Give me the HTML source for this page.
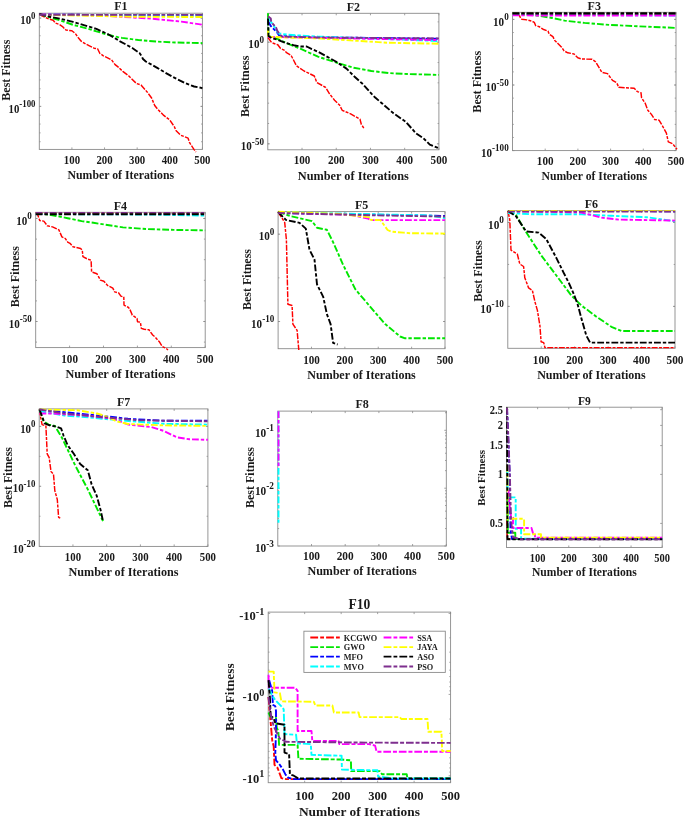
<!DOCTYPE html>
<html><head><meta charset="utf-8"><style>
html,body{margin:0;padding:0;background:#fff;width:685px;height:817px;overflow:hidden}
svg{display:block;will-change:transform;filter:blur(0.3px)}
text{font-family:"Liberation Serif",serif;font-weight:bold}
</style></head><body>
<svg width="685" height="817" viewBox="0 0 685 817" font-family="'Liberation Serif', serif" font-weight="bold">
<rect width="685" height="817" fill="#fff"/>
<g stroke="#8a8a8a" stroke-width="0.8"><line x1="71.92" y1="149.4" x2="71.92" y2="147.4"/><line x1="71.92" y1="13.2" x2="71.92" y2="15.2"/><line x1="104.54" y1="149.4" x2="104.54" y2="147.4"/><line x1="104.54" y1="13.2" x2="104.54" y2="15.2"/><line x1="137.16" y1="149.4" x2="137.16" y2="147.4"/><line x1="137.16" y1="13.2" x2="137.16" y2="15.2"/><line x1="169.78" y1="149.4" x2="169.78" y2="147.4"/><line x1="169.78" y1="13.2" x2="169.78" y2="15.2"/><line x1="202.40" y1="149.4" x2="202.40" y2="147.4"/><line x1="202.40" y1="13.2" x2="202.40" y2="15.2"/><line x1="39.3" y1="18.1" x2="41.3" y2="18.1"/><line x1="202.4" y1="18.1" x2="200.4" y2="18.1"/><line x1="39.3" y1="106.4" x2="41.3" y2="106.4"/><line x1="202.4" y1="106.4" x2="200.4" y2="106.4"/><line x1="39.3" y1="18.10" x2="40.599999999999994" y2="18.10"/><line x1="202.4" y1="18.10" x2="201.1" y2="18.10"/><line x1="39.3" y1="26.93" x2="40.599999999999994" y2="26.93"/><line x1="202.4" y1="26.93" x2="201.1" y2="26.93"/><line x1="39.3" y1="35.76" x2="40.599999999999994" y2="35.76"/><line x1="202.4" y1="35.76" x2="201.1" y2="35.76"/><line x1="39.3" y1="44.59" x2="40.599999999999994" y2="44.59"/><line x1="202.4" y1="44.59" x2="201.1" y2="44.59"/><line x1="39.3" y1="53.42" x2="40.599999999999994" y2="53.42"/><line x1="202.4" y1="53.42" x2="201.1" y2="53.42"/><line x1="39.3" y1="62.25" x2="40.599999999999994" y2="62.25"/><line x1="202.4" y1="62.25" x2="201.1" y2="62.25"/><line x1="39.3" y1="71.08" x2="40.599999999999994" y2="71.08"/><line x1="202.4" y1="71.08" x2="201.1" y2="71.08"/><line x1="39.3" y1="79.91" x2="40.599999999999994" y2="79.91"/><line x1="202.4" y1="79.91" x2="201.1" y2="79.91"/><line x1="39.3" y1="88.74" x2="40.599999999999994" y2="88.74"/><line x1="202.4" y1="88.74" x2="201.1" y2="88.74"/><line x1="39.3" y1="97.57" x2="40.599999999999994" y2="97.57"/><line x1="202.4" y1="97.57" x2="201.1" y2="97.57"/><line x1="39.3" y1="106.40" x2="40.599999999999994" y2="106.40"/><line x1="202.4" y1="106.40" x2="201.1" y2="106.40"/><line x1="39.3" y1="115.23" x2="40.599999999999994" y2="115.23"/><line x1="202.4" y1="115.23" x2="201.1" y2="115.23"/><line x1="39.3" y1="124.06" x2="40.599999999999994" y2="124.06"/><line x1="202.4" y1="124.06" x2="201.1" y2="124.06"/><line x1="39.3" y1="132.89" x2="40.599999999999994" y2="132.89"/><line x1="202.4" y1="132.89" x2="201.1" y2="132.89"/><line x1="39.3" y1="141.72" x2="40.599999999999994" y2="141.72"/><line x1="202.4" y1="141.72" x2="201.1" y2="141.72"/></g>
<rect x="39.3" y="13.2" width="163.10" height="136.20" fill="none" stroke="#8a8a8a" stroke-width="0.9"/>
<svg x="39.3" y="13.2" width="163.10" height="136.20" viewBox="39.3 13.2 163.10 136.20" overflow="hidden">
<path d="M39.3,14.5 L47.3,18.4 L53.2,20.2 L55.5,23.1 L59.0,24.3 L62.5,26.6 L66.0,30.1 L71.9,30.7 L75.4,33.6 L78.3,37.7 L81.2,41.2 L85.9,44.1 L89.4,45.9 L94.1,48.2 L97.6,48.8 L99.9,53.5 L103.4,55.8 L108.1,58.1 L111.6,59.9 L115.1,64.6 L118.0,66.9 L122.8,71.4 L128.8,75.9 L136.4,83.5 L141.0,85.0 L147.1,91.9 L151.6,98.0 L154.7,105.5 L157.7,109.3 L163.8,115.4 L169.8,120.0 L174.4,126.8 L175.9,130.6 L180.5,135.1 L188.1,138.2 L189.6,142.7 L194.1,149.6 L196.0,152.0" fill="none" stroke="#ff0000" stroke-width="1.45" stroke-dasharray="6,1.3,3,1.3" stroke-linejoin="round"/>
<path d="M39.3,14.0 L49.7,17.3 L61.4,20.8 L73.0,24.8 L84.7,27.8 L96.4,31.3 L108.1,34.8 L118.0,37.1 L122.0,37.9 L138.4,40.0 L156.8,41.6 L175.2,42.5 L202.4,43.1" fill="none" stroke="#00e600" stroke-width="1.9" stroke-dasharray="6.8,2,3.4,2" stroke-linejoin="round"/>
<path d="M39.3,14.8 L202.4,14.9" fill="none" stroke="#0000ff" stroke-width="1.9" stroke-dasharray="6.8,2,3.4,2" stroke-linejoin="round"/>
<path d="M39.3,14.5 L120.0,15.5 L202.4,16.3" fill="none" stroke="#00ffff" stroke-width="1.9" stroke-dasharray="6.8,2,3.4,2" stroke-linejoin="round"/>
<path d="M39.3,14.4 L100.0,15.5 L150.7,18.6 L169.0,20.4 L181.3,21.6 L202.4,24.7" fill="none" stroke="#ff00ff" stroke-width="1.9" stroke-dasharray="6.8,2,3.4,2" stroke-linejoin="round"/>
<path d="M39.3,14.8 L100.0,16.0 L135.0,16.8 L202.4,17.0" fill="none" stroke="#ffff00" stroke-width="1.9" stroke-dasharray="6.8,2,3.4,2" stroke-linejoin="round"/>
<path d="M39.3,14.0 L49.7,16.7 L61.4,19.0 L73.0,21.9 L84.7,25.4 L96.4,28.9 L108.1,34.2 L118.0,40.0 L120.0,41.3 L132.3,48.0 L139.5,53.0 L141.5,56.0 L143.0,59.0 L145.8,61.5 L156.8,67.6 L165.0,72.5 L172.9,77.0 L185.0,83.0 L194.1,86.5 L202.4,88.1" fill="none" stroke="#000000" stroke-width="1.9" stroke-dasharray="6.8,2,3.4,2" stroke-linejoin="round"/>
<path d="M39.3,14.8 L202.4,14.9" fill="none" stroke="#7e2f8e" stroke-width="1.9" stroke-dasharray="6.8,2,3.4,2" stroke-linejoin="round"/>
</svg>
<g fill="#1a1a1a"><text transform="translate(71.92,164.1) scale(1,1.12)" text-anchor="middle" font-size="10.81">100</text><text transform="translate(104.54,164.1) scale(1,1.12)" text-anchor="middle" font-size="10.81">200</text><text transform="translate(137.16,164.1) scale(1,1.12)" text-anchor="middle" font-size="10.81">300</text><text transform="translate(169.78,164.1) scale(1,1.12)" text-anchor="middle" font-size="10.81">400</text><text transform="translate(202.40,164.1) scale(1,1.12)" text-anchor="middle" font-size="10.81">500</text><text transform="translate(35.5,24.2) scale(1,1.12)" text-anchor="end" font-size="10.81">10<tspan font-size="8.86" dy="-4.76">0</tspan></text><text transform="translate(35.5,112.5) scale(1,1.12)" text-anchor="end" font-size="10.81">10<tspan font-size="8.86" dy="-4.76">-100</tspan></text><text x="120.85" y="179.3" text-anchor="middle" font-size="11.80">Number of Iterations</text><text x="120.85" y="10.4" text-anchor="middle" font-size="12.00">F1</text><text transform="translate(10.3,70.20) rotate(-90)" x="0" y="0" text-anchor="middle" font-size="12.00">Best Fitness</text></g>
<g stroke="#8a8a8a" stroke-width="0.8"><line x1="302.02" y1="149.8" x2="302.02" y2="147.8"/><line x1="302.02" y1="13.3" x2="302.02" y2="15.3"/><line x1="336.24" y1="149.8" x2="336.24" y2="147.8"/><line x1="336.24" y1="13.3" x2="336.24" y2="15.3"/><line x1="370.46" y1="149.8" x2="370.46" y2="147.8"/><line x1="370.46" y1="13.3" x2="370.46" y2="15.3"/><line x1="404.68" y1="149.8" x2="404.68" y2="147.8"/><line x1="404.68" y1="13.3" x2="404.68" y2="15.3"/><line x1="438.90" y1="149.8" x2="438.90" y2="147.8"/><line x1="438.90" y1="13.3" x2="438.90" y2="15.3"/><line x1="267.8" y1="42.2" x2="269.8" y2="42.2"/><line x1="438.9" y1="42.2" x2="436.9" y2="42.2"/><line x1="267.8" y1="143.8" x2="269.8" y2="143.8"/><line x1="438.9" y1="143.8" x2="436.9" y2="143.8"/><line x1="267.8" y1="42.20" x2="269.1" y2="42.20"/><line x1="438.9" y1="42.20" x2="437.59999999999997" y2="42.20"/><line x1="267.8" y1="62.52" x2="269.1" y2="62.52"/><line x1="438.9" y1="62.52" x2="437.59999999999997" y2="62.52"/><line x1="267.8" y1="82.84" x2="269.1" y2="82.84"/><line x1="438.9" y1="82.84" x2="437.59999999999997" y2="82.84"/><line x1="267.8" y1="103.16" x2="269.1" y2="103.16"/><line x1="438.9" y1="103.16" x2="437.59999999999997" y2="103.16"/><line x1="267.8" y1="123.48" x2="269.1" y2="123.48"/><line x1="438.9" y1="123.48" x2="437.59999999999997" y2="123.48"/><line x1="267.8" y1="143.80" x2="269.1" y2="143.80"/><line x1="438.9" y1="143.80" x2="437.59999999999997" y2="143.80"/><line x1="267.8" y1="21.88" x2="269.1" y2="21.88"/><line x1="438.9" y1="21.88" x2="437.59999999999997" y2="21.88"/></g>
<rect x="267.8" y="13.3" width="171.10" height="136.50" fill="none" stroke="#8a8a8a" stroke-width="0.9"/>
<svg x="267.8" y="13.3" width="171.10" height="136.50" viewBox="267.8 13.3 171.10 136.50" overflow="hidden">
<path d="M268.0,37.5 L271.6,42.6 L277.8,44.8 L280.4,48.3 L284.8,50.5 L286.5,52.7 L290.9,55.3 L292.5,58.0 L296.5,65.9 L304.1,71.0 L314.3,76.0 L316.8,82.4 L325.7,87.5 L329.5,93.8 L334.6,100.2 L339.7,105.3 L342.2,110.3 L351.1,114.1 L360.0,119.2 L361.3,124.3 L363.8,128.1" fill="none" stroke="#ff0000" stroke-width="1.45" stroke-dasharray="6,1.3,3,1.3" stroke-linejoin="round"/>
<path d="M268.0,13.3 L268.5,36.0 L276.9,38.6 L288.3,43.9 L301.4,49.2 L318.0,56.7 L335.8,62.4 L353.6,67.7 L371.4,71.0 L389.2,73.1 L407.0,74.0 L438.9,74.9" fill="none" stroke="#00e600" stroke-width="1.9" stroke-dasharray="6.8,2,3.4,2" stroke-linejoin="round"/>
<path d="M268.0,21.1 L270.8,26.0 L275.1,30.3 L277.8,33.4 L279.5,36.0 L318.0,37.3 L438.9,38.8" fill="none" stroke="#0000ff" stroke-width="1.9" stroke-dasharray="6.8,2,3.4,2" stroke-linejoin="round"/>
<path d="M268.0,18.5 L272.5,23.8 L278.6,33.4 L288.3,34.8 L318.0,36.6 L438.9,41.0" fill="none" stroke="#00ffff" stroke-width="1.9" stroke-dasharray="6.8,2,3.4,2" stroke-linejoin="round"/>
<path d="M268.0,36.9 L318.0,37.8 L438.9,40.1" fill="none" stroke="#ff00ff" stroke-width="1.9" stroke-dasharray="6.8,2,3.4,2" stroke-linejoin="round"/>
<path d="M268.0,29.9 L268.3,36.8 L318.0,38.4 L389.0,42.8 L438.9,43.7" fill="none" stroke="#ffff00" stroke-width="1.9" stroke-dasharray="6.8,2,3.4,2" stroke-linejoin="round"/>
<path d="M268.0,18.5 L268.5,36.0 L271.6,38.2 L276.9,39.5 L284.8,42.6 L293.5,45.2 L300.5,46.5 L306.7,46.5 L311.9,49.2 L318.0,51.7 L335.8,61.5 L346.5,68.6 L353.6,75.8 L362.5,83.8 L371.4,93.6 L375.2,97.6 L382.8,104.0 L393.0,112.9 L405.7,121.8 L415.9,133.2 L423.5,138.3 L429.8,144.6 L438.9,148.4" fill="none" stroke="#000000" stroke-width="1.9" stroke-dasharray="6.8,2,3.4,2" stroke-linejoin="round"/>
<path d="M268.0,16.3 L270.8,18.5 L271.2,22.0 L276.0,27.3 L277.3,30.8 L279.5,34.3 L282.1,36.5 L318.0,37.5 L438.9,38.4" fill="none" stroke="#7e2f8e" stroke-width="1.9" stroke-dasharray="6.8,2,3.4,2" stroke-linejoin="round"/>
</svg>
<g fill="#1a1a1a"><text transform="translate(302.02,164.2) scale(1,1.12)" text-anchor="middle" font-size="11.12">100</text><text transform="translate(336.24,164.2) scale(1,1.12)" text-anchor="middle" font-size="11.12">200</text><text transform="translate(370.46,164.2) scale(1,1.12)" text-anchor="middle" font-size="11.12">300</text><text transform="translate(404.68,164.2) scale(1,1.12)" text-anchor="middle" font-size="11.12">400</text><text transform="translate(438.90,164.2) scale(1,1.12)" text-anchor="middle" font-size="11.12">500</text><text transform="translate(264.0,48.4) scale(1,1.12)" text-anchor="end" font-size="11.12">10<tspan font-size="9.12" dy="-4.89">0</tspan></text><text transform="translate(264.0,150.0) scale(1,1.12)" text-anchor="end" font-size="11.12">10<tspan font-size="9.12" dy="-4.89">-50</tspan></text><text x="353.35" y="179.6" text-anchor="middle" font-size="12.30">Number of Iterations</text><text x="353.35" y="10.5" text-anchor="middle" font-size="12.00">F2</text><text transform="translate(248.6,86.30) rotate(-90)" x="0" y="0" text-anchor="middle" font-size="12.10">Best Fitness</text></g>
<g stroke="#8a8a8a" stroke-width="0.8"><line x1="545.20" y1="150.6" x2="545.20" y2="148.6"/><line x1="545.20" y1="12.3" x2="545.20" y2="14.3"/><line x1="577.90" y1="150.6" x2="577.90" y2="148.6"/><line x1="577.90" y1="12.3" x2="577.90" y2="14.3"/><line x1="610.60" y1="150.6" x2="610.60" y2="148.6"/><line x1="610.60" y1="12.3" x2="610.60" y2="14.3"/><line x1="643.30" y1="150.6" x2="643.30" y2="148.6"/><line x1="643.30" y1="12.3" x2="643.30" y2="14.3"/><line x1="676.00" y1="150.6" x2="676.00" y2="148.6"/><line x1="676.00" y1="12.3" x2="676.00" y2="14.3"/><line x1="512.5" y1="19.4" x2="514.5" y2="19.4"/><line x1="676" y1="19.4" x2="674.0" y2="19.4"/><line x1="512.5" y1="85.0" x2="514.5" y2="85.0"/><line x1="676" y1="85.0" x2="674.0" y2="85.0"/><line x1="512.5" y1="150.6" x2="514.5" y2="150.6"/><line x1="676" y1="150.6" x2="674.0" y2="150.6"/><line x1="512.5" y1="19.40" x2="513.8" y2="19.40"/><line x1="676" y1="19.40" x2="674.7" y2="19.40"/><line x1="512.5" y1="32.52" x2="513.8" y2="32.52"/><line x1="676" y1="32.52" x2="674.7" y2="32.52"/><line x1="512.5" y1="45.64" x2="513.8" y2="45.64"/><line x1="676" y1="45.64" x2="674.7" y2="45.64"/><line x1="512.5" y1="58.76" x2="513.8" y2="58.76"/><line x1="676" y1="58.76" x2="674.7" y2="58.76"/><line x1="512.5" y1="71.88" x2="513.8" y2="71.88"/><line x1="676" y1="71.88" x2="674.7" y2="71.88"/><line x1="512.5" y1="85.00" x2="513.8" y2="85.00"/><line x1="676" y1="85.00" x2="674.7" y2="85.00"/><line x1="512.5" y1="98.12" x2="513.8" y2="98.12"/><line x1="676" y1="98.12" x2="674.7" y2="98.12"/><line x1="512.5" y1="111.24" x2="513.8" y2="111.24"/><line x1="676" y1="111.24" x2="674.7" y2="111.24"/><line x1="512.5" y1="124.36" x2="513.8" y2="124.36"/><line x1="676" y1="124.36" x2="674.7" y2="124.36"/><line x1="512.5" y1="137.48" x2="513.8" y2="137.48"/><line x1="676" y1="137.48" x2="674.7" y2="137.48"/></g>
<rect x="512.5" y="12.3" width="163.50" height="138.30" fill="none" stroke="#8a8a8a" stroke-width="0.9"/>
<svg x="512.5" y="12.3" width="163.50" height="138.30" viewBox="512.5 12.3 163.50 138.30" overflow="hidden">
<path d="M512.5,13.5 L518.8,14.3 L520.7,18.1 L521.9,19.3 L526.9,19.9 L531.9,21.2 L534.3,22.4 L535.6,25.5 L539.3,26.7 L543.0,29.2 L548.0,31.1 L549.2,34.2 L552.9,36.7 L554.8,40.4 L557.9,43.5 L561.6,47.2 L564.1,50.9 L567.8,52.8 L574.0,54.0 L577.8,57.8 L581.5,59.0 L592.0,59.3 L595.7,61.8 L598.2,66.2 L601.9,72.4 L607.5,73.6 L612.5,80.4 L616.8,82.9 L618.7,87.3 L634.2,88.3 L637.3,91.6 L641.0,92.8 L641.6,97.8 L645.3,103.4 L647.8,110.2 L651.6,114.6 L654.7,119.5 L659.0,120.1 L662.7,126.3 L666.4,133.2 L668.3,141.8 L672.6,143.7 L677.0,149.3" fill="none" stroke="#ff0000" stroke-width="1.45" stroke-dasharray="6,1.3,3,1.3" stroke-linejoin="round"/>
<path d="M512.5,13.5 L525.0,14.2 L534.8,15.3 L545.0,16.8 L552.2,18.0 L564.6,20.6 L584.5,22.9 L609.3,24.9 L634.1,26.1 L676.0,27.9" fill="none" stroke="#00e600" stroke-width="1.9" stroke-dasharray="6.8,2,3.4,2" stroke-linejoin="round"/>
<path d="M512.5,13.5 L676.0,13.8" fill="none" stroke="#0000ff" stroke-width="1.9" stroke-dasharray="6.8,2,3.4,2" stroke-linejoin="round"/>
<path d="M512.5,14.5 L676.0,15.5" fill="none" stroke="#00ffff" stroke-width="1.9" stroke-dasharray="6.8,2,3.4,2" stroke-linejoin="round"/>
<path d="M512.5,15.4 L676.0,15.6" fill="none" stroke="#ff00ff" stroke-width="1.9" stroke-dasharray="6.8,2,3.4,2" stroke-linejoin="round"/>
<path d="M512.5,13.5 L676.0,13.8" fill="none" stroke="#ffff00" stroke-width="1.9" stroke-dasharray="6.8,2,3.4,2" stroke-linejoin="round"/>
<path d="M512.5,14.0 L676.0,14.0" fill="none" stroke="#7e2f8e" stroke-width="1.9" stroke-dasharray="6.8,2,3.4,2" stroke-linejoin="round"/>
<path d="M512.5,13.3 L676.0,13.3" fill="none" stroke="#000000" stroke-width="1.9" stroke-dasharray="6.8,2,3.4,2" stroke-linejoin="round"/>
</svg>
<g fill="#1a1a1a"><text transform="translate(545.20,164.8) scale(1,1.12)" text-anchor="middle" font-size="11.12">100</text><text transform="translate(577.90,164.8) scale(1,1.12)" text-anchor="middle" font-size="11.12">200</text><text transform="translate(610.60,164.8) scale(1,1.12)" text-anchor="middle" font-size="11.12">300</text><text transform="translate(643.30,164.8) scale(1,1.12)" text-anchor="middle" font-size="11.12">400</text><text transform="translate(676.00,164.8) scale(1,1.12)" text-anchor="middle" font-size="11.12">500</text><text transform="translate(508.7,25.6) scale(1,1.12)" text-anchor="end" font-size="11.12">10<tspan font-size="9.12" dy="-4.89">0</tspan></text><text transform="translate(508.7,91.2) scale(1,1.12)" text-anchor="end" font-size="11.12">10<tspan font-size="9.12" dy="-4.89">-50</tspan></text><text transform="translate(508.7,156.8) scale(1,1.12)" text-anchor="end" font-size="11.12">10<tspan font-size="9.12" dy="-4.89">-100</tspan></text><text x="594.25" y="179.9" text-anchor="middle" font-size="11.70">Number of Iterations</text><text x="594.25" y="9.5" text-anchor="middle" font-size="12.00">F3</text><text transform="translate(481.4,81.70) rotate(-90)" x="0" y="0" text-anchor="middle" font-size="12.20">Best Fitness</text></g>
<g stroke="#8a8a8a" stroke-width="0.8"><line x1="69.60" y1="347.6" x2="69.60" y2="345.6"/><line x1="69.60" y1="212.3" x2="69.60" y2="214.3"/><line x1="103.50" y1="347.6" x2="103.50" y2="345.6"/><line x1="103.50" y1="212.3" x2="103.50" y2="214.3"/><line x1="137.40" y1="347.6" x2="137.40" y2="345.6"/><line x1="137.40" y1="212.3" x2="137.40" y2="214.3"/><line x1="171.30" y1="347.6" x2="171.30" y2="345.6"/><line x1="171.30" y1="212.3" x2="171.30" y2="214.3"/><line x1="205.20" y1="347.6" x2="205.20" y2="345.6"/><line x1="205.20" y1="212.3" x2="205.20" y2="214.3"/><line x1="35.7" y1="218.5" x2="37.7" y2="218.5"/><line x1="205.2" y1="218.5" x2="203.2" y2="218.5"/><line x1="35.7" y1="321.5" x2="37.7" y2="321.5"/><line x1="205.2" y1="321.5" x2="203.2" y2="321.5"/><line x1="35.7" y1="218.50" x2="37.0" y2="218.50"/><line x1="205.2" y1="218.50" x2="203.89999999999998" y2="218.50"/><line x1="35.7" y1="239.10" x2="37.0" y2="239.10"/><line x1="205.2" y1="239.10" x2="203.89999999999998" y2="239.10"/><line x1="35.7" y1="259.70" x2="37.0" y2="259.70"/><line x1="205.2" y1="259.70" x2="203.89999999999998" y2="259.70"/><line x1="35.7" y1="280.30" x2="37.0" y2="280.30"/><line x1="205.2" y1="280.30" x2="203.89999999999998" y2="280.30"/><line x1="35.7" y1="300.90" x2="37.0" y2="300.90"/><line x1="205.2" y1="300.90" x2="203.89999999999998" y2="300.90"/><line x1="35.7" y1="321.50" x2="37.0" y2="321.50"/><line x1="205.2" y1="321.50" x2="203.89999999999998" y2="321.50"/><line x1="35.7" y1="342.10" x2="37.0" y2="342.10"/><line x1="205.2" y1="342.10" x2="203.89999999999998" y2="342.10"/></g>
<rect x="35.7" y="212.3" width="169.50" height="135.30" fill="none" stroke="#8a8a8a" stroke-width="0.9"/>
<svg x="35.7" y="212.3" width="169.50" height="135.30" viewBox="35.7 212.3 169.50 135.30" overflow="hidden">
<path d="M35.7,212.8 L37.3,213.5 L39.7,220.5 L43.8,221.1 L47.3,225.8 L52.5,226.9 L58.9,229.9 L61.9,236.9 L65.4,238.6 L67.7,242.1 L70.0,243.3 L73.0,246.8 L80.6,248.5 L82.3,250.3 L82.9,256.7 L87.6,259.1 L91.1,260.2 L91.6,271.9 L96.9,273.7 L100.4,280.1 L103.9,281.3 L107.4,285.3 L112.8,288.1 L114.7,291.9 L118.5,292.8 L120.9,296.1 L123.8,297.1 L124.0,305.1 L128.5,307.5 L129.9,309.4 L132.3,315.1 L137.0,318.4 L137.5,321.7 L140.4,322.2 L141.3,328.4 L144.2,329.3 L148.9,329.8 L152.7,335.0 L155.5,337.4 L159.3,341.7 L162.2,346.4 L166.0,348.3 L168.0,350.0" fill="none" stroke="#ff0000" stroke-width="1.45" stroke-dasharray="6,1.3,3,1.3" stroke-linejoin="round"/>
<path d="M35.7,213.0 L49.0,214.7 L58.4,216.4 L67.7,218.2 L81.7,221.1 L93.4,222.8 L105.1,224.6 L122.9,227.4 L148.3,229.1 L173.7,229.9 L205.2,230.4" fill="none" stroke="#00e600" stroke-width="1.9" stroke-dasharray="6.8,2,3.4,2" stroke-linejoin="round"/>
<path d="M35.7,213.3 L205.2,213.6" fill="none" stroke="#0000ff" stroke-width="1.9" stroke-dasharray="6.8,2,3.4,2" stroke-linejoin="round"/>
<path d="M35.7,214.0 L150.0,214.5 L205.2,215.6" fill="none" stroke="#00ffff" stroke-width="1.9" stroke-dasharray="6.8,2,3.4,2" stroke-linejoin="round"/>
<path d="M35.7,213.2 L205.2,213.5" fill="none" stroke="#ff00ff" stroke-width="1.9" stroke-dasharray="6.8,2,3.4,2" stroke-linejoin="round"/>
<path d="M35.7,213.0 L205.2,213.0" fill="none" stroke="#ffff00" stroke-width="1.9" stroke-dasharray="6.8,2,3.4,2" stroke-linejoin="round"/>
<path d="M35.7,212.9 L205.2,212.9" fill="none" stroke="#7e2f8e" stroke-width="1.9" stroke-dasharray="6.8,2,3.4,2" stroke-linejoin="round"/>
<path d="M35.7,214.3 L205.2,214.3" fill="none" stroke="#000000" stroke-width="1.9" stroke-dasharray="6.8,2,3.4,2" stroke-linejoin="round"/>
</svg>
<g fill="#1a1a1a"><text transform="translate(69.60,363.0) scale(1,1.12)" text-anchor="middle" font-size="11.12">100</text><text transform="translate(103.50,363.0) scale(1,1.12)" text-anchor="middle" font-size="11.12">200</text><text transform="translate(137.40,363.0) scale(1,1.12)" text-anchor="middle" font-size="11.12">300</text><text transform="translate(171.30,363.0) scale(1,1.12)" text-anchor="middle" font-size="11.12">400</text><text transform="translate(205.20,363.0) scale(1,1.12)" text-anchor="middle" font-size="11.12">500</text><text transform="translate(31.900000000000002,224.7) scale(1,1.12)" text-anchor="end" font-size="11.12">10<tspan font-size="9.12" dy="-4.89">0</tspan></text><text transform="translate(31.900000000000002,327.7) scale(1,1.12)" text-anchor="end" font-size="11.12">10<tspan font-size="9.12" dy="-4.89">-50</tspan></text><text x="120.45" y="377.7" text-anchor="middle" font-size="12.20">Number of Iterations</text><text x="120.45" y="209.5" text-anchor="middle" font-size="12.00">F4</text><text transform="translate(19,276.70) rotate(-90)" x="0" y="0" text-anchor="middle" font-size="12.00">Best Fitness</text></g>
<g stroke="#8a8a8a" stroke-width="0.8"><line x1="311.48" y1="348.7" x2="311.48" y2="346.7"/><line x1="311.48" y1="211.6" x2="311.48" y2="213.6"/><line x1="344.86" y1="348.7" x2="344.86" y2="346.7"/><line x1="344.86" y1="211.6" x2="344.86" y2="213.6"/><line x1="378.24" y1="348.7" x2="378.24" y2="346.7"/><line x1="378.24" y1="211.6" x2="378.24" y2="213.6"/><line x1="411.62" y1="348.7" x2="411.62" y2="346.7"/><line x1="411.62" y1="211.6" x2="411.62" y2="213.6"/><line x1="445.00" y1="348.7" x2="445.00" y2="346.7"/><line x1="445.00" y1="211.6" x2="445.00" y2="213.6"/><line x1="278.1" y1="234.2" x2="280.1" y2="234.2"/><line x1="445" y1="234.2" x2="443.0" y2="234.2"/><line x1="278.1" y1="321.5" x2="280.1" y2="321.5"/><line x1="445" y1="321.5" x2="443.0" y2="321.5"/><line x1="278.1" y1="234.20" x2="279.40000000000003" y2="234.20"/><line x1="445" y1="234.20" x2="443.7" y2="234.20"/><line x1="278.1" y1="277.85" x2="279.40000000000003" y2="277.85"/><line x1="445" y1="277.85" x2="443.7" y2="277.85"/><line x1="278.1" y1="321.50" x2="279.40000000000003" y2="321.50"/><line x1="445" y1="321.50" x2="443.7" y2="321.50"/></g>
<rect x="278.1" y="211.6" width="166.90" height="137.10" fill="none" stroke="#8a8a8a" stroke-width="0.9"/>
<svg x="278.1" y="211.6" width="166.90" height="137.10" viewBox="278.1 211.6 166.90 137.10" overflow="hidden">
<path d="M278.1,212.0 L284.7,222.4 L286.4,239.7 L287.9,304.3 L292.1,305.5 L292.9,324.1 L297.1,330.3 L298.8,350.0" fill="none" stroke="#ff0000" stroke-width="1.45" stroke-dasharray="6,1.3,3,1.3" stroke-linejoin="round"/>
<path d="M278.1,212.0 L290.9,216.2 L312.0,221.1 L317.0,227.8 L326.9,229.8 L333.1,242.2 L343.0,264.6 L355.4,289.4 L370.3,306.8 L385.2,324.1 L400.1,336.5 L405.1,338.3 L445.0,338.3" fill="none" stroke="#00e600" stroke-width="1.9" stroke-dasharray="6.8,2,3.4,2" stroke-linejoin="round"/>
<path d="M278.1,213.0 L445.0,216.0" fill="none" stroke="#0000ff" stroke-width="1.9" stroke-dasharray="6.8,2,3.4,2" stroke-linejoin="round"/>
<path d="M278.1,212.0 L370.3,214.2 L430.0,215.5 L445.0,218.1" fill="none" stroke="#00ffff" stroke-width="1.9" stroke-dasharray="6.8,2,3.4,2" stroke-linejoin="round"/>
<path d="M278.1,212.5 L350.5,214.9 L368.0,218.5 L370.5,220.1 L445.0,220.1" fill="none" stroke="#ff00ff" stroke-width="1.9" stroke-dasharray="6.8,2,3.4,2" stroke-linejoin="round"/>
<path d="M278.1,211.8 L340.0,214.0 L370.5,217.5 L370.5,219.8 L380.4,220.1 L387.6,230.0 L391.5,231.7 L403.4,232.6 L409.9,233.2 L445.0,233.6" fill="none" stroke="#ffff00" stroke-width="1.9" stroke-dasharray="6.8,2,3.4,2" stroke-linejoin="round"/>
<path d="M278.1,212.0 L285.9,219.9 L299.6,222.9 L305.8,228.6 L309.5,249.7 L314.5,259.6 L317.0,284.4 L323.2,296.8 L326.9,314.2 L330.6,324.1 L333.1,342.8 L337.6,344.5" fill="none" stroke="#000000" stroke-width="1.9" stroke-dasharray="6.8,2,3.4,2" stroke-linejoin="round"/>
<path d="M278.1,213.0 L370.0,215.2 L445.0,216.6" fill="none" stroke="#7e2f8e" stroke-width="1.9" stroke-dasharray="6.8,2,3.4,2" stroke-linejoin="round"/>
</svg>
<g fill="#1a1a1a"><text transform="translate(311.48,363.7) scale(1,1.12)" text-anchor="middle" font-size="11.12">100</text><text transform="translate(344.86,363.7) scale(1,1.12)" text-anchor="middle" font-size="11.12">200</text><text transform="translate(378.24,363.7) scale(1,1.12)" text-anchor="middle" font-size="11.12">300</text><text transform="translate(411.62,363.7) scale(1,1.12)" text-anchor="middle" font-size="11.12">400</text><text transform="translate(445.00,363.7) scale(1,1.12)" text-anchor="middle" font-size="11.12">500</text><text transform="translate(274.3,240.4) scale(1,1.12)" text-anchor="end" font-size="11.12">10<tspan font-size="9.12" dy="-4.89">0</tspan></text><text transform="translate(274.3,327.7) scale(1,1.12)" text-anchor="end" font-size="11.12">10<tspan font-size="9.12" dy="-4.89">-10</tspan></text><text x="361.55" y="378.9" text-anchor="middle" font-size="12.00">Number of Iterations</text><text x="361.55" y="208.8" text-anchor="middle" font-size="12.00">F5</text><text transform="translate(251.4,279.50) rotate(-90)" x="0" y="0" text-anchor="middle" font-size="12.00">Best Fitness</text></g>
<g stroke="#8a8a8a" stroke-width="0.8"><line x1="541.24" y1="348.3" x2="541.24" y2="346.3"/><line x1="541.24" y1="210.7" x2="541.24" y2="212.7"/><line x1="574.68" y1="348.3" x2="574.68" y2="346.3"/><line x1="574.68" y1="210.7" x2="574.68" y2="212.7"/><line x1="608.12" y1="348.3" x2="608.12" y2="346.3"/><line x1="608.12" y1="210.7" x2="608.12" y2="212.7"/><line x1="641.56" y1="348.3" x2="641.56" y2="346.3"/><line x1="641.56" y1="210.7" x2="641.56" y2="212.7"/><line x1="675.00" y1="348.3" x2="675.00" y2="346.3"/><line x1="675.00" y1="210.7" x2="675.00" y2="212.7"/><line x1="507.8" y1="222.5" x2="509.8" y2="222.5"/><line x1="675" y1="222.5" x2="673.0" y2="222.5"/><line x1="507.8" y1="306.4" x2="509.8" y2="306.4"/><line x1="675" y1="306.4" x2="673.0" y2="306.4"/><line x1="507.8" y1="222.50" x2="509.1" y2="222.50"/><line x1="675" y1="222.50" x2="673.7" y2="222.50"/><line x1="507.8" y1="264.45" x2="509.1" y2="264.45"/><line x1="675" y1="264.45" x2="673.7" y2="264.45"/><line x1="507.8" y1="306.40" x2="509.1" y2="306.40"/><line x1="675" y1="306.40" x2="673.7" y2="306.40"/></g>
<rect x="507.8" y="210.7" width="167.20" height="137.60" fill="none" stroke="#8a8a8a" stroke-width="0.9"/>
<svg x="507.8" y="210.7" width="167.20" height="137.60" viewBox="507.8 210.7 167.20 137.60" overflow="hidden">
<path d="M508.0,211.0 L509.8,220.1 L511.0,250.2 L517.3,254.0 L519.8,264.0 L523.6,266.5 L524.8,277.8 L528.6,287.9 L532.4,290.4 L534.9,301.7 L537.4,310.4 L539.9,325.5 L541.1,341.8 L543.7,342.6 L544.9,347.6 L675.0,347.6" fill="none" stroke="#ff0000" stroke-width="1.45" stroke-dasharray="6,1.3,3,1.3" stroke-linejoin="round"/>
<path d="M508.0,211.0 L516.0,215.0 L524.8,230.1 L541.1,255.2 L556.2,275.3 L571.3,295.4 L581.3,305.4 L596.4,316.7 L611.4,326.8 L621.5,331.0 L675.0,331.0" fill="none" stroke="#00e600" stroke-width="1.9" stroke-dasharray="6.8,2,3.4,2" stroke-linejoin="round"/>
<path d="M508.0,211.0 L675.0,211.2" fill="none" stroke="#0000ff" stroke-width="1.9" stroke-dasharray="6.8,2,3.4,2" stroke-linejoin="round"/>
<path d="M508.0,213.0 L530.0,214.2 L581.3,214.3 L611.4,215.8 L646.6,217.2 L675.0,221.3" fill="none" stroke="#00ffff" stroke-width="1.9" stroke-dasharray="6.8,2,3.4,2" stroke-linejoin="round"/>
<path d="M508.0,211.0 L581.3,212.5 L601.4,217.6 L619.0,219.6 L675.0,220.6" fill="none" stroke="#ff00ff" stroke-width="1.9" stroke-dasharray="6.8,2,3.4,2" stroke-linejoin="round"/>
<path d="M508.0,211.0 L675.0,211.0" fill="none" stroke="#ffff00" stroke-width="1.9" stroke-dasharray="6.8,2,3.4,2" stroke-linejoin="round"/>
<path d="M508.0,211.0 L516.0,216.3 L526.1,231.4 L538.6,232.6 L546.2,238.9 L556.2,257.7 L563.7,272.8 L568.8,282.8 L573.8,294.1 L577.6,304.2 L581.3,318.0 L586.3,335.6 L590.1,342.6 L675.0,342.6" fill="none" stroke="#000000" stroke-width="1.9" stroke-dasharray="6.8,2,3.4,2" stroke-linejoin="round"/>
<path d="M508.0,211.6 L675.0,211.6" fill="none" stroke="#7e2f8e" stroke-width="1.9" stroke-dasharray="6.8,2,3.4,2" stroke-linejoin="round"/>
</svg>
<g fill="#1a1a1a"><text transform="translate(541.24,363.7) scale(1,1.12)" text-anchor="middle" font-size="11.33">100</text><text transform="translate(574.68,363.7) scale(1,1.12)" text-anchor="middle" font-size="11.33">200</text><text transform="translate(608.12,363.7) scale(1,1.12)" text-anchor="middle" font-size="11.33">300</text><text transform="translate(641.56,363.7) scale(1,1.12)" text-anchor="middle" font-size="11.33">400</text><text transform="translate(675.00,363.7) scale(1,1.12)" text-anchor="middle" font-size="11.33">500</text><text transform="translate(504.0,228.8) scale(1,1.12)" text-anchor="end" font-size="11.33">10<tspan font-size="9.29" dy="-4.99">0</tspan></text><text transform="translate(504.0,312.7) scale(1,1.12)" text-anchor="end" font-size="11.33">10<tspan font-size="9.29" dy="-4.99">-10</tspan></text><text x="591.40" y="378.7" text-anchor="middle" font-size="12.00">Number of Iterations</text><text x="591.40" y="207.9" text-anchor="middle" font-size="12.00">F6</text><text transform="translate(481.8,271.10) rotate(-90)" x="0" y="0" text-anchor="middle" font-size="12.10">Best Fitness</text></g>
<g stroke="#8a8a8a" stroke-width="0.8"><line x1="72.94" y1="546.4" x2="72.94" y2="544.4"/><line x1="72.94" y1="408.9" x2="72.94" y2="410.9"/><line x1="106.68" y1="546.4" x2="106.68" y2="544.4"/><line x1="106.68" y1="408.9" x2="106.68" y2="410.9"/><line x1="140.42" y1="546.4" x2="140.42" y2="544.4"/><line x1="140.42" y1="408.9" x2="140.42" y2="410.9"/><line x1="174.16" y1="546.4" x2="174.16" y2="544.4"/><line x1="174.16" y1="408.9" x2="174.16" y2="410.9"/><line x1="207.90" y1="546.4" x2="207.90" y2="544.4"/><line x1="207.90" y1="408.9" x2="207.90" y2="410.9"/><line x1="39.2" y1="426.4" x2="41.2" y2="426.4"/><line x1="207.9" y1="426.4" x2="205.9" y2="426.4"/><line x1="39.2" y1="486.3" x2="41.2" y2="486.3"/><line x1="207.9" y1="486.3" x2="205.9" y2="486.3"/><line x1="39.2" y1="546.4" x2="41.2" y2="546.4"/><line x1="207.9" y1="546.4" x2="205.9" y2="546.4"/><line x1="39.2" y1="426.40" x2="40.5" y2="426.40"/><line x1="207.9" y1="426.40" x2="206.6" y2="426.40"/><line x1="39.2" y1="456.35" x2="40.5" y2="456.35"/><line x1="207.9" y1="456.35" x2="206.6" y2="456.35"/><line x1="39.2" y1="486.30" x2="40.5" y2="486.30"/><line x1="207.9" y1="486.30" x2="206.6" y2="486.30"/><line x1="39.2" y1="516.25" x2="40.5" y2="516.25"/><line x1="207.9" y1="516.25" x2="206.6" y2="516.25"/></g>
<rect x="39.2" y="408.9" width="168.70" height="137.50" fill="none" stroke="#8a8a8a" stroke-width="0.9"/>
<svg x="39.2" y="408.9" width="168.70" height="137.50" viewBox="39.2 408.9 168.70 137.50" overflow="hidden">
<path d="M39.5,409.5 L40.8,418.2 L42.1,424.6 L45.9,425.9 L47.2,453.8 L49.2,457.6 L51.0,471.6 L53.5,474.1 L54.8,490.6 L57.3,499.5 L58.6,517.3 L61.1,518.6" fill="none" stroke="#ff0000" stroke-width="1.45" stroke-dasharray="6,1.3,3,1.3" stroke-linejoin="round"/>
<path d="M39.5,409.5 L43.4,420.8 L48.4,424.6 L54.8,425.9 L62.4,438.6 L75.1,465.2 L87.8,489.4 L103.0,521.1" fill="none" stroke="#00e600" stroke-width="1.9" stroke-dasharray="6.8,2,3.4,2" stroke-linejoin="round"/>
<path d="M39.5,409.5 L64.3,412.2 L77.4,413.5 L103.7,416.1 L128.0,418.8 L164.0,420.8 L207.9,420.8" fill="none" stroke="#0000ff" stroke-width="1.9" stroke-dasharray="6.8,2,3.4,2" stroke-linejoin="round"/>
<path d="M39.5,411.0 L44.6,412.2 L64.3,415.5 L90.6,417.5 L103.7,418.8 L125.9,420.8 L164.0,423.8 L207.9,424.6" fill="none" stroke="#00ffff" stroke-width="1.9" stroke-dasharray="6.8,2,3.4,2" stroke-linejoin="round"/>
<path d="M39.5,413.5 L51.1,413.5 L87.8,415.7 L113.2,418.7 L128.4,424.6 L151.3,427.1 L164.0,431.0 L176.7,437.3 L189.4,439.3 L207.9,439.8" fill="none" stroke="#ff00ff" stroke-width="1.9" stroke-dasharray="6.8,2,3.4,2" stroke-linejoin="round"/>
<path d="M39.5,409.5 L77.4,410.2 L97.1,413.5 L108.0,417.0 L116.8,421.4 L128.0,424.0 L164.0,425.4 L207.9,425.9" fill="none" stroke="#ffff00" stroke-width="1.9" stroke-dasharray="6.8,2,3.4,2" stroke-linejoin="round"/>
<path d="M39.5,409.5 L44.6,423.3 L51.0,425.9 L56.0,426.4 L61.1,428.4 L63.7,436.0 L67.5,444.9 L73.8,453.8 L80.2,464.0 L87.8,470.3 L91.6,484.3 L96.7,495.7 L100.5,509.7 L103.0,521.1" fill="none" stroke="#000000" stroke-width="1.9" stroke-dasharray="6.8,2,3.4,2" stroke-linejoin="round"/>
<path d="M39.5,409.5 L62.4,413.2 L100.5,417.0 L138.6,420.3 L207.9,421.3" fill="none" stroke="#7e2f8e" stroke-width="1.9" stroke-dasharray="6.8,2,3.4,2" stroke-linejoin="round"/>
</svg>
<g fill="#1a1a1a"><text transform="translate(72.94,561.1) scale(1,1.12)" text-anchor="middle" font-size="10.81">100</text><text transform="translate(106.68,561.1) scale(1,1.12)" text-anchor="middle" font-size="10.81">200</text><text transform="translate(140.42,561.1) scale(1,1.12)" text-anchor="middle" font-size="10.81">300</text><text transform="translate(174.16,561.1) scale(1,1.12)" text-anchor="middle" font-size="10.81">400</text><text transform="translate(207.90,561.1) scale(1,1.12)" text-anchor="middle" font-size="10.81">500</text><text transform="translate(35.400000000000006,432.5) scale(1,1.12)" text-anchor="end" font-size="10.81">10<tspan font-size="8.86" dy="-4.76">0</tspan></text><text transform="translate(35.400000000000006,492.4) scale(1,1.12)" text-anchor="end" font-size="10.81">10<tspan font-size="8.86" dy="-4.76">-10</tspan></text><text transform="translate(35.400000000000006,552.5) scale(1,1.12)" text-anchor="end" font-size="10.81">10<tspan font-size="8.86" dy="-4.76">-20</tspan></text><text x="123.55" y="576.0" text-anchor="middle" font-size="12.20">Number of Iterations</text><text x="123.55" y="406.1" text-anchor="middle" font-size="12.00">F7</text><text transform="translate(11.8,477.50) rotate(-90)" x="0" y="0" text-anchor="middle" font-size="12.00">Best Fitness</text></g>
<g stroke="#8a8a8a" stroke-width="0.8"><line x1="311.50" y1="546" x2="311.50" y2="544.0"/><line x1="311.50" y1="411.1" x2="311.50" y2="413.1"/><line x1="345.20" y1="546" x2="345.20" y2="544.0"/><line x1="345.20" y1="411.1" x2="345.20" y2="413.1"/><line x1="378.90" y1="546" x2="378.90" y2="544.0"/><line x1="378.90" y1="411.1" x2="378.90" y2="413.1"/><line x1="412.60" y1="546" x2="412.60" y2="544.0"/><line x1="412.60" y1="411.1" x2="412.60" y2="413.1"/><line x1="446.30" y1="546" x2="446.30" y2="544.0"/><line x1="446.30" y1="411.1" x2="446.30" y2="413.1"/><line x1="277.8" y1="430.3" x2="279.8" y2="430.3"/><line x1="446.3" y1="430.3" x2="444.3" y2="430.3"/><line x1="277.8" y1="488.2" x2="279.8" y2="488.2"/><line x1="446.3" y1="488.2" x2="444.3" y2="488.2"/><line x1="277.8" y1="546" x2="279.8" y2="546"/><line x1="446.3" y1="546" x2="444.3" y2="546"/><line x1="277.8" y1="528.57" x2="279.1" y2="528.57"/><line x1="446.3" y1="528.57" x2="445.0" y2="528.57"/><line x1="277.8" y1="518.37" x2="279.1" y2="518.37"/><line x1="446.3" y1="518.37" x2="445.0" y2="518.37"/><line x1="277.8" y1="511.14" x2="279.1" y2="511.14"/><line x1="446.3" y1="511.14" x2="445.0" y2="511.14"/><line x1="277.8" y1="505.53" x2="279.1" y2="505.53"/><line x1="446.3" y1="505.53" x2="445.0" y2="505.53"/><line x1="277.8" y1="500.95" x2="279.1" y2="500.95"/><line x1="446.3" y1="500.95" x2="445.0" y2="500.95"/><line x1="277.8" y1="497.07" x2="279.1" y2="497.07"/><line x1="446.3" y1="497.07" x2="445.0" y2="497.07"/><line x1="277.8" y1="493.71" x2="279.1" y2="493.71"/><line x1="446.3" y1="493.71" x2="445.0" y2="493.71"/><line x1="277.8" y1="490.75" x2="279.1" y2="490.75"/><line x1="446.3" y1="490.75" x2="445.0" y2="490.75"/><line x1="277.8" y1="470.67" x2="279.1" y2="470.67"/><line x1="446.3" y1="470.67" x2="445.0" y2="470.67"/><line x1="277.8" y1="460.47" x2="279.1" y2="460.47"/><line x1="446.3" y1="460.47" x2="445.0" y2="460.47"/><line x1="277.8" y1="453.24" x2="279.1" y2="453.24"/><line x1="446.3" y1="453.24" x2="445.0" y2="453.24"/><line x1="277.8" y1="447.63" x2="279.1" y2="447.63"/><line x1="446.3" y1="447.63" x2="445.0" y2="447.63"/><line x1="277.8" y1="443.05" x2="279.1" y2="443.05"/><line x1="446.3" y1="443.05" x2="445.0" y2="443.05"/><line x1="277.8" y1="439.17" x2="279.1" y2="439.17"/><line x1="446.3" y1="439.17" x2="445.0" y2="439.17"/><line x1="277.8" y1="435.81" x2="279.1" y2="435.81"/><line x1="446.3" y1="435.81" x2="445.0" y2="435.81"/><line x1="277.8" y1="432.85" x2="279.1" y2="432.85"/><line x1="446.3" y1="432.85" x2="445.0" y2="432.85"/><line x1="277.8" y1="412.77" x2="279.1" y2="412.77"/><line x1="446.3" y1="412.77" x2="445.0" y2="412.77"/></g>
<rect x="277.8" y="411.1" width="168.50" height="134.90" fill="none" stroke="#8a8a8a" stroke-width="0.9"/>
<svg x="277.8" y="411.1" width="168.50" height="134.90" viewBox="277.8 411.1 168.50 134.90" overflow="hidden">
<path d="M278.5,411.2 L278.5,523.1" fill="none" stroke="#00ffff" stroke-width="1.9" stroke-dasharray="6.8,2,3.4,2" stroke-linejoin="round"/>
<path d="M278.5,411.2 L278.5,466.3" fill="none" stroke="#ff00ff" stroke-width="1.9" stroke-dasharray="6.8,2,3.4,2" stroke-linejoin="round"/>
</svg>
<g fill="#1a1a1a"><text transform="translate(311.50,560.3) scale(1,1.12)" text-anchor="middle" font-size="11.33">100</text><text transform="translate(345.20,560.3) scale(1,1.12)" text-anchor="middle" font-size="11.33">200</text><text transform="translate(378.90,560.3) scale(1,1.12)" text-anchor="middle" font-size="11.33">300</text><text transform="translate(412.60,560.3) scale(1,1.12)" text-anchor="middle" font-size="11.33">400</text><text transform="translate(446.30,560.3) scale(1,1.12)" text-anchor="middle" font-size="11.33">500</text><text transform="translate(274.0,436.6) scale(1,1.12)" text-anchor="end" font-size="11.33">10<tspan font-size="9.29" dy="-4.99">-1</tspan></text><text transform="translate(274.0,494.5) scale(1,1.12)" text-anchor="end" font-size="11.33">10<tspan font-size="9.29" dy="-4.99">-2</tspan></text><text transform="translate(274.0,552.3) scale(1,1.12)" text-anchor="end" font-size="11.33">10<tspan font-size="9.29" dy="-4.99">-3</tspan></text><text x="362.05" y="575.0" text-anchor="middle" font-size="12.10">Number of Iterations</text><text x="362.05" y="408.3" text-anchor="middle" font-size="12.00">F8</text><text transform="translate(254.1,477.50) rotate(-90)" x="0" y="0" text-anchor="middle" font-size="12.00">Best Fitness</text></g>
<g stroke="#8a8a8a" stroke-width="0.8"><line x1="537.64" y1="547.5" x2="537.64" y2="545.5"/><line x1="537.64" y1="407.2" x2="537.64" y2="409.2"/><line x1="568.78" y1="547.5" x2="568.78" y2="545.5"/><line x1="568.78" y1="407.2" x2="568.78" y2="409.2"/><line x1="599.92" y1="547.5" x2="599.92" y2="545.5"/><line x1="599.92" y1="407.2" x2="599.92" y2="409.2"/><line x1="631.06" y1="547.5" x2="631.06" y2="545.5"/><line x1="631.06" y1="407.2" x2="631.06" y2="409.2"/><line x1="662.20" y1="547.5" x2="662.20" y2="545.5"/><line x1="662.20" y1="407.2" x2="662.20" y2="409.2"/><line x1="506.5" y1="409.7" x2="508.5" y2="409.7"/><line x1="662.2" y1="409.7" x2="660.2" y2="409.7"/><line x1="506.5" y1="425.4" x2="508.5" y2="425.4"/><line x1="662.2" y1="425.4" x2="660.2" y2="425.4"/><line x1="506.5" y1="445.6" x2="508.5" y2="445.6"/><line x1="662.2" y1="445.6" x2="660.2" y2="445.6"/><line x1="506.5" y1="474.4" x2="508.5" y2="474.4"/><line x1="662.2" y1="474.4" x2="660.2" y2="474.4"/><line x1="506.5" y1="523.4" x2="508.5" y2="523.4"/><line x1="662.2" y1="523.4" x2="660.2" y2="523.4"/></g>
<rect x="506.5" y="407.2" width="155.70" height="140.30" fill="none" stroke="#8a8a8a" stroke-width="0.9"/>
<svg x="506.5" y="407.2" width="155.70" height="140.30" viewBox="506.5 407.2 155.70 140.30" overflow="hidden">
<path d="M507.0,520.0 L507.3,538.8 L662.2,538.8" fill="none" stroke="#ff0000" stroke-width="1.45" stroke-dasharray="6,1.3,3,1.3" stroke-linejoin="round"/>
<path d="M507.4,495.0 L507.8,532.8 L515.3,532.8 L515.3,539.0 L662.2,539.0" fill="none" stroke="#00e600" stroke-width="1.9" stroke-dasharray="6.8,2,3.4,2" stroke-linejoin="round"/>
<path d="M507.0,408.0 L509.5,470.0 L510.5,530.0 L512.0,539.0 L662.2,539.0" fill="none" stroke="#0000ff" stroke-width="1.9" stroke-dasharray="6.8,2,3.4,2" stroke-linejoin="round"/>
<path d="M507.4,470.0 L507.6,497.4 L515.7,497.4 L515.7,528.8 L521.1,528.8 L521.1,538.8 L662.2,538.8" fill="none" stroke="#00ffff" stroke-width="1.9" stroke-dasharray="6.8,2,3.4,2" stroke-linejoin="round"/>
<path d="M508.5,490.0 L509.5,505.0 L511.0,515.8 L513.0,517.5 L513.0,528.0 L531.5,528.0 L533.0,533.3 L535.0,533.3 L535.0,537.6 L662.2,537.6" fill="none" stroke="#ff00ff" stroke-width="1.9" stroke-dasharray="6.8,2,3.4,2" stroke-linejoin="round"/>
<path d="M507.4,465.0 L507.5,518.8 L524.1,518.8 L524.1,534.2 L541.0,534.2 L541.0,537.6 L662.2,537.6" fill="none" stroke="#ffff00" stroke-width="1.9" stroke-dasharray="6.8,2,3.4,2" stroke-linejoin="round"/>
<path d="M507.0,407.5 L507.5,539.2 L662.2,539.2" fill="none" stroke="#000000" stroke-width="1.9" stroke-dasharray="6.8,2,3.4,2" stroke-linejoin="round"/>
<path d="M507.0,408.0 L508.5,440.0 L510.0,480.0 L511.0,520.0 L513.0,537.0 L520.0,539.3 L662.2,539.3" fill="none" stroke="#7e2f8e" stroke-width="1.9" stroke-dasharray="6.8,2,3.4,2" stroke-linejoin="round"/>
</svg>
<g fill="#1a1a1a"><text transform="translate(537.64,561.8) scale(1,1.12)" text-anchor="middle" font-size="10.51">100</text><text transform="translate(568.78,561.8) scale(1,1.12)" text-anchor="middle" font-size="10.51">200</text><text transform="translate(599.92,561.8) scale(1,1.12)" text-anchor="middle" font-size="10.51">300</text><text transform="translate(631.06,561.8) scale(1,1.12)" text-anchor="middle" font-size="10.51">400</text><text transform="translate(662.20,561.8) scale(1,1.12)" text-anchor="middle" font-size="10.51">500</text><text transform="translate(503.0,413.5) scale(1,1.12)" text-anchor="end" font-size="10.51">2.5</text><text transform="translate(503.0,429.2) scale(1,1.12)" text-anchor="end" font-size="10.51">2</text><text transform="translate(503.0,449.4) scale(1,1.12)" text-anchor="end" font-size="10.51">1.5</text><text transform="translate(503.0,478.2) scale(1,1.12)" text-anchor="end" font-size="10.51">1</text><text transform="translate(503.0,527.2) scale(1,1.12)" text-anchor="end" font-size="10.51">0.5</text><text x="584.35" y="575.5" text-anchor="middle" font-size="11.60">Number of Iterations</text><text x="584.35" y="404.5" text-anchor="middle" font-size="11.52">F9</text><text transform="translate(484.7,477.90) rotate(-90)" x="0" y="0" text-anchor="middle" font-size="11.00">Best Fitness</text></g>
<g stroke="#8a8a8a" stroke-width="0.8"><line x1="304.68" y1="782.7" x2="304.68" y2="780.7"/><line x1="304.68" y1="612.1" x2="304.68" y2="614.1"/><line x1="341.16" y1="782.7" x2="341.16" y2="780.7"/><line x1="341.16" y1="612.1" x2="341.16" y2="614.1"/><line x1="377.64" y1="782.7" x2="377.64" y2="780.7"/><line x1="377.64" y1="612.1" x2="377.64" y2="614.1"/><line x1="414.12" y1="782.7" x2="414.12" y2="780.7"/><line x1="414.12" y1="612.1" x2="414.12" y2="614.1"/><line x1="450.60" y1="782.7" x2="450.60" y2="780.7"/><line x1="450.60" y1="612.1" x2="450.60" y2="614.1"/><line x1="268.2" y1="613.4" x2="270.2" y2="613.4"/><line x1="450.6" y1="613.4" x2="448.6" y2="613.4"/><line x1="268.2" y1="694.4" x2="270.2" y2="694.4"/><line x1="450.6" y1="694.4" x2="448.6" y2="694.4"/><line x1="268.2" y1="775.8" x2="270.2" y2="775.8"/><line x1="450.6" y1="775.8" x2="448.6" y2="775.8"/><line x1="268.2" y1="637.84" x2="269.5" y2="637.84"/><line x1="450.6" y1="637.84" x2="449.3" y2="637.84"/><line x1="268.2" y1="652.14" x2="269.5" y2="652.14"/><line x1="450.6" y1="652.14" x2="449.3" y2="652.14"/><line x1="268.2" y1="662.29" x2="269.5" y2="662.29"/><line x1="450.6" y1="662.29" x2="449.3" y2="662.29"/><line x1="268.2" y1="670.16" x2="269.5" y2="670.16"/><line x1="450.6" y1="670.16" x2="449.3" y2="670.16"/><line x1="268.2" y1="676.59" x2="269.5" y2="676.59"/><line x1="450.6" y1="676.59" x2="449.3" y2="676.59"/><line x1="268.2" y1="682.02" x2="269.5" y2="682.02"/><line x1="450.6" y1="682.02" x2="449.3" y2="682.02"/><line x1="268.2" y1="686.73" x2="269.5" y2="686.73"/><line x1="450.6" y1="686.73" x2="449.3" y2="686.73"/><line x1="268.2" y1="690.88" x2="269.5" y2="690.88"/><line x1="450.6" y1="690.88" x2="449.3" y2="690.88"/><line x1="268.2" y1="719.04" x2="269.5" y2="719.04"/><line x1="450.6" y1="719.04" x2="449.3" y2="719.04"/><line x1="268.2" y1="733.34" x2="269.5" y2="733.34"/><line x1="450.6" y1="733.34" x2="449.3" y2="733.34"/><line x1="268.2" y1="743.49" x2="269.5" y2="743.49"/><line x1="450.6" y1="743.49" x2="449.3" y2="743.49"/><line x1="268.2" y1="751.36" x2="269.5" y2="751.36"/><line x1="450.6" y1="751.36" x2="449.3" y2="751.36"/><line x1="268.2" y1="757.79" x2="269.5" y2="757.79"/><line x1="450.6" y1="757.79" x2="449.3" y2="757.79"/><line x1="268.2" y1="763.22" x2="269.5" y2="763.22"/><line x1="450.6" y1="763.22" x2="449.3" y2="763.22"/><line x1="268.2" y1="767.93" x2="269.5" y2="767.93"/><line x1="450.6" y1="767.93" x2="449.3" y2="767.93"/><line x1="268.2" y1="772.08" x2="269.5" y2="772.08"/><line x1="450.6" y1="772.08" x2="449.3" y2="772.08"/></g>
<rect x="268.2" y="612.1" width="182.40" height="170.60" fill="none" stroke="#8a8a8a" stroke-width="0.9"/>
<svg x="268.2" y="612.1" width="182.40" height="170.60" viewBox="268.2 612.1 182.40 170.60" overflow="hidden">
<path d="M268.5,697.0 L270.6,721.7 L272.2,740.2 L273.7,746.4 L274.5,764.9 L277.6,768.0 L279.9,774.2 L281.4,778.1 L286.1,779.1 L450.6,779.1" fill="none" stroke="#ff0000" stroke-width="1.9" stroke-dasharray="7.7,1.9,4,1.9" stroke-linejoin="round"/>
<path d="M268.5,712.5 L270.6,717.1 L276.0,717.9 L276.8,727.9 L278.3,731.0 L279.1,744.9 L297.6,744.9 L298.4,758.8 L340.1,759.5 L350.9,760.3 L351.2,771.1 L379.7,771.1 L382.0,774.2 L406.7,774.2 L407.5,778.5 L450.6,778.5" fill="none" stroke="#00e600" stroke-width="1.9" stroke-dasharray="7.7,1.9,4,1.9" stroke-linejoin="round"/>
<path d="M269.1,680.1 L272.2,690.9 L272.9,704.8 L275.3,706.3 L276.0,710.9 L276.0,731.0 L275.3,752.6 L276.0,760.3 L279.9,764.9 L283.0,769.6 L285.3,774.2 L287.6,777.3 L292.2,779.1 L450.6,779.1" fill="none" stroke="#0000ff" stroke-width="1.9" stroke-dasharray="7.7,1.9,4,1.9" stroke-linejoin="round"/>
<path d="M268.5,687.8 L272.2,695.5 L275.3,700.1 L281.4,706.3 L283.7,709.4 L284.5,734.1 L296.1,734.8 L296.9,743.3 L310.8,744.1 L311.5,754.9 L341.6,755.7 L341.9,769.6 L377.4,770.3 L378.1,776.5 L393.6,778.5 L450.6,778.5" fill="none" stroke="#00ffff" stroke-width="1.9" stroke-dasharray="7.7,1.9,4,1.9" stroke-linejoin="round"/>
<path d="M268.5,674.7 L268.8,687.8 L295.3,687.8 L297.6,690.9 L297.6,731.0 L311.5,731.0 L312.3,741.0 L338.5,741.0 L339.3,744.1 L368.9,744.1 L375.1,745.6 L376.6,751.8 L450.6,751.8" fill="none" stroke="#ff00ff" stroke-width="1.9" stroke-dasharray="7.7,1.9,4,1.9" stroke-linejoin="round"/>
<path d="M268.5,671.6 L273.7,671.6 L274.5,692.4 L279.9,693.2 L281.4,701.4 L313.8,701.7 L315.4,705.5 L332.4,705.5 L333.9,712.5 L358.6,712.5 L359.6,717.1 L399.8,717.1 L401.3,719.0 L427.5,719.0 L428.3,731.8 L441.4,731.8 L442.2,751.0 L450.6,751.0" fill="none" stroke="#ffff00" stroke-width="1.9" stroke-dasharray="7.7,1.9,4,1.9" stroke-linejoin="round"/>
<path d="M268.5,680.1 L269.9,697.0 L270.6,715.6 L273.7,718.6 L275.3,723.3 L279.9,724.0 L284.5,724.8 L284.5,752.6 L289.1,754.1 L289.9,774.2 L293.8,775.7 L298.4,778.5 L450.6,778.5" fill="none" stroke="#000000" stroke-width="1.9" stroke-dasharray="7.7,1.9,4,1.9" stroke-linejoin="round"/>
<path d="M268.5,697.0 L270.6,714.0 L273.7,726.4 L276.8,732.5 L279.9,738.7 L286.1,741.8 L366.0,742.6 L450.6,742.9" fill="none" stroke="#7e2f8e" stroke-width="1.9" stroke-dasharray="7.7,1.9,4,1.9" stroke-linejoin="round"/>
</svg>
<g fill="#1a1a1a"><text transform="translate(304.68,800.3) scale(1,1.0)" text-anchor="middle" font-size="12.50">100</text><text transform="translate(341.16,800.3) scale(1,1.0)" text-anchor="middle" font-size="12.50">200</text><text transform="translate(377.64,800.3) scale(1,1.0)" text-anchor="middle" font-size="12.50">300</text><text transform="translate(414.12,800.3) scale(1,1.0)" text-anchor="middle" font-size="12.50">400</text><text transform="translate(450.60,800.3) scale(1,1.0)" text-anchor="middle" font-size="12.50">500</text><text transform="translate(264.4,620.4) scale(1,1.0)" text-anchor="end" font-size="12.50">-10<tspan font-size="10.25" dy="-5.50">-1</tspan></text><text transform="translate(264.4,701.4) scale(1,1.0)" text-anchor="end" font-size="12.50">-10<tspan font-size="10.25" dy="-5.50">0</tspan></text><text transform="translate(264.4,782.8) scale(1,1.0)" text-anchor="end" font-size="12.50">-10<tspan font-size="10.25" dy="-5.50">1</tspan></text><text x="359.40" y="816.0" text-anchor="middle" font-size="13.40">Number of Iterations</text><text x="359.40" y="608.9" text-anchor="middle" font-size="13.56">F10</text><text transform="translate(233.8,697.20) rotate(-90)" x="0" y="0" text-anchor="middle" font-size="13.30">Best Fitness</text></g>
<rect x="303.9" y="631.2" width="141.40" height="41.20" fill="#fff" stroke="#8a8a8a" stroke-width="0.9"/>
<line x1="310.3" y1="637.5" x2="340.1" y2="637.5" stroke="#ff0000" stroke-width="1.8" stroke-dasharray="7.8,2.1,3.8,2.1"/>
<text x="343.8" y="640.5" font-size="8.25" fill="#1a1a1a">KCGWO</text>
<line x1="310.3" y1="647.1" x2="340.1" y2="647.1" stroke="#00e600" stroke-width="1.8" stroke-dasharray="7.8,2.1,3.8,2.1"/>
<text x="343.8" y="650.1" font-size="8.25" fill="#1a1a1a">GWO</text>
<line x1="310.3" y1="656.7" x2="340.1" y2="656.7" stroke="#0000ff" stroke-width="1.8" stroke-dasharray="7.8,2.1,3.8,2.1"/>
<text x="343.8" y="659.7" font-size="8.25" fill="#1a1a1a">MFO</text>
<line x1="310.3" y1="666.5" x2="340.1" y2="666.5" stroke="#00ffff" stroke-width="1.8" stroke-dasharray="7.8,2.1,3.8,2.1"/>
<text x="343.8" y="669.5" font-size="8.25" fill="#1a1a1a">MVO</text>
<line x1="383.6" y1="637.5" x2="413.4" y2="637.5" stroke="#ff00ff" stroke-width="1.8" stroke-dasharray="7.8,2.1,3.8,2.1"/>
<text x="417.2" y="640.5" font-size="8.25" fill="#1a1a1a">SSA</text>
<line x1="383.6" y1="647.1" x2="413.4" y2="647.1" stroke="#ffff00" stroke-width="1.8" stroke-dasharray="7.8,2.1,3.8,2.1"/>
<text x="417.2" y="650.1" font-size="8.25" fill="#1a1a1a">JAYA</text>
<line x1="383.6" y1="656.7" x2="413.4" y2="656.7" stroke="#000000" stroke-width="1.8" stroke-dasharray="7.8,2.1,3.8,2.1"/>
<text x="417.2" y="659.7" font-size="8.25" fill="#1a1a1a">ASO</text>
<line x1="383.6" y1="666.5" x2="413.4" y2="666.5" stroke="#7e2f8e" stroke-width="1.8" stroke-dasharray="7.8,2.1,3.8,2.1"/>
<text x="417.2" y="669.5" font-size="8.25" fill="#1a1a1a">PSO</text>
</svg>
</body></html>
